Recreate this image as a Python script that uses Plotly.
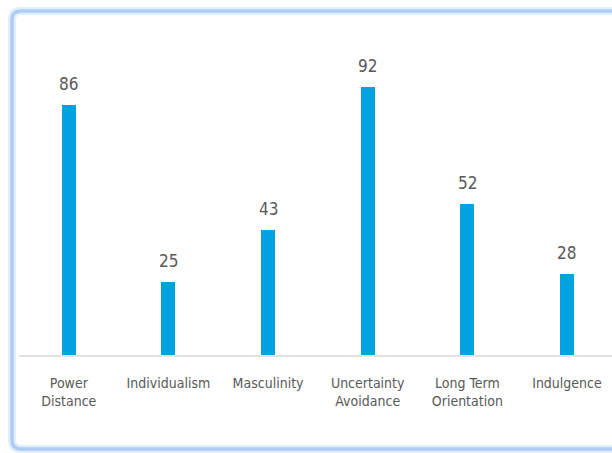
import plotly.graph_objects as go

#====================================================
# DATA
#====================================================

dimensions = [
    "Power<br>Distance",
    "Individualism",
    "Masculinity",
    "Uncertainty<br>Avoidance",
    "Long Term<br>Orientation",
    "Indulgence"
]

scores = [86, 25, 43, 92, 52, 28]

#====================================================
# LAYOUT CONSTANTS
#====================================================

W, H = 612, 453
ML, MR, MT, MB = 19, 0, 64, 98
FONT = "DejaVu Sans Condensed, Liberation Sans Narrow, sans-serif"
GREY = "#595959"


def px_x(x):
    return (x - ML) / (W - ML - MR)


def px_y(y):
    return (H - MB - y) / (H - MT - MB)


def rounded_box(x0, y0, x1, y1, r):
    # path in paper coords, corners drawn with quadratic curves
    return (
        f"M {px_x(x0 + r)},{px_y(y0)} "
        f"L {px_x(x1)},{px_y(y0)} "
        f"L {px_x(x1)},{px_y(y1)} "
        f"L {px_x(x0 + r)},{px_y(y1)} "
        f"Q {px_x(x0)},{px_y(y1)} {px_x(x0)},{px_y(y1 - r)} "
        f"L {px_x(x0)},{px_y(y0 + r)} "
        f"Q {px_x(x0)},{px_y(y0)} {px_x(x0 + r)},{px_y(y0)} Z"
    )


#====================================================
# FIGURE
#====================================================

fig = go.Figure()

fig.add_trace(go.Bar(
    x=list(range(len(scores))),
    y=scores,
    width=0.14,
    marker=dict(color="#00A3DF", line=dict(width=0)),
    hoverinfo="skip"
))

# value labels above the bars
for i, v in enumerate(scores):
    fig.add_annotation(
        x=i, y=v,
        text=str(v),
        showarrow=False,
        yanchor="bottom",
        yshift=9,
        font=dict(family=FONT, size=17, color=GREY)
    )

box = rounded_box(12, 11, 640, 449, 9)

fig.update_layout(
    width=W,
    height=H,
    margin=dict(l=ML, r=MR, t=MT, b=MB),
    paper_bgcolor="white",
    plot_bgcolor="white",
    showlegend=False,
    bargap=0,
    font=dict(family=FONT, color=GREY),
    xaxis=dict(
        range=[-0.5, 5.452],
        tickmode="array",
        tickvals=list(range(len(dimensions))),
        ticktext=dimensions,
        tickfont=dict(family=FONT, size=14, color=GREY),
        ticks="outside",
        ticklen=14,
        tickcolor="rgba(0,0,0,0)",
        showline=True,
        linecolor="#e2e2e2",
        linewidth=2,
        showgrid=False,
        zeroline=False,
        fixedrange=True
    ),
    yaxis=dict(
        range=[0, 100],
        visible=False,
        showgrid=False,
        zeroline=False,
        fixedrange=True
    ),
    shapes=[
        dict(type="path", xref="paper", yref="paper", path=box,
             line=dict(color="#e3eefc", width=8)),
        dict(type="path", xref="paper", yref="paper", path=box,
             line=dict(color="#aecdf4", width=3.5))
    ]
)

# drop the default page margin so the figure fills the window
fig.write_html(
    "out.html",
    config={"displayModeBar": False},
    post_script="document.body.style.margin='0';document.body.style.overflow='hidden';"
)
